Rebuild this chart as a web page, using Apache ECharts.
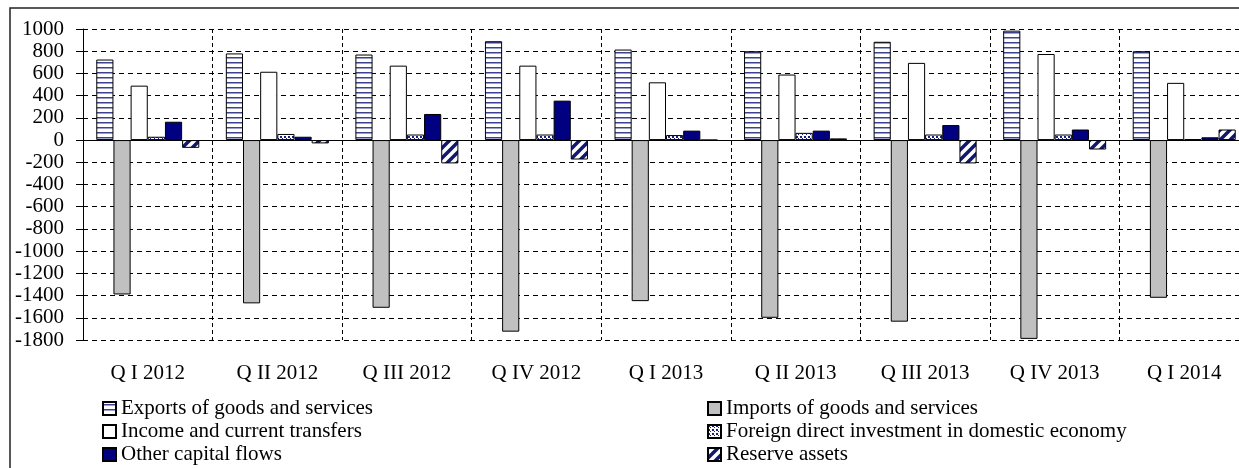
<!DOCTYPE html>
<html>
<head>
<meta charset="utf-8">
<script src="https://cdn.jsdelivr.net/npm/echarts@6/dist/echarts.min.js"></script>
<style>
  html, body { margin: 0; padding: 0; background: #fff; }
  #chart { width: 1239px; height: 468px; }
</style>
</head>
<body>
<div id="chart"></div>
<script>
// ---- data ----
var categories = ['Q I 2012', 'Q II 2012', 'Q III 2012', 'Q IV 2012', 'Q I 2013', 'Q II 2013', 'Q III 2013', 'Q IV 2013', 'Q I 2014'];
var exportsGS = [725, 780, 770, 890, 815, 800, 885, 985, 800];
var importsGS = [-1390, -1470, -1510, -1725, -1450, -1600, -1635, -1790, -1420];
var incomeCT = [490, 615, 670, 670, 520, 590, 695, 775, 515];
var fdi = [30, 55, 50, 50, 45, 65, 50, 50, 8];
var otherCap = [165, 30, 235, 355, 85, 85, 135, 95, 25];
var reserve = [-70, -30, -210, -175, 0, 15, -210, -85, 95];
var yTicks = { min: -1800, max: 1000, interval: 200 };

var names = {
  exp: 'Exports of goods and services',
  imp: 'Imports of goods and services',
  inc: 'Income and current transfers',
  fdi: 'Foreign direct investment in domestic economy',
  oth: 'Other capital flows',
  res: 'Reserve assets'
};

// ---- patterns ----
function makeCanvas(w, h, draw) {
  var c = document.createElement('canvas');
  c.width = w; c.height = h;
  var ctx = c.getContext('2d');
  draw(ctx, w, h);
  return { image: c, repeat: 'repeat' };
}
var hStripe = makeCanvas(8, 5, function (ctx, w, h) {
  ctx.fillStyle = '#ffffff'; ctx.fillRect(0, 0, w, h);
  ctx.fillStyle = '#3d4290'; ctx.fillRect(0, 2, w, 1.5);
});
var checker = makeCanvas(4, 4, function (ctx, w, h) {
  ctx.fillStyle = '#ffffff'; ctx.fillRect(0, 0, w, h);
  ctx.fillStyle = '#1a1f7a';
  ctx.fillRect(0, 0, 2, 2); ctx.fillRect(2, 2, 1, 1);
});
var diag = makeCanvas(10, 10, function (ctx, w, h) {
  ctx.fillStyle = '#ffffff'; ctx.fillRect(0, 0, w, h);
  ctx.strokeStyle = '#101870'; ctx.lineWidth = 3.5;
  ctx.beginPath();
  ctx.moveTo(-5, 5); ctx.lineTo(5, -5);
  ctx.moveTo(0, 10); ctx.lineTo(10, 0);
  ctx.moveTo(5, 15); ctx.lineTo(15, 5);
  ctx.stroke();
});

var font = "'Liberation Serif', 'Times New Roman', serif";
var border = { borderColor: '#000', borderWidth: 1 };
function bar(name, data, color) {
  return {
    name: name, type: 'bar', data: data,
    xAxisIndex: 0, yAxisIndex: 0,
    barGap: '0%', barCategoryGap: '20.5%',
    itemStyle: Object.assign({ color: color }, border),
    emphasis: { disabled: true }
  };
}
var legendText = { fontFamily: font, fontSize: 21, color: '#000', lineHeight: 21 };

var chart = echarts.init(document.getElementById('chart'), null, { renderer: 'canvas' });
chart.setOption({
  animation: false,
  backgroundColor: '#fff',
  textStyle: { fontFamily: font },
  graphic: [{
    type: 'rect', silent: true, z: 100,
    shape: { x: 10, y: 8, width: 1300, height: 520 },
    style: { fill: 'none', stroke: '#222', lineWidth: 1.5 }
  }],
  grid: { left: 83, top: 29, width: 1166, height: 311, outerBoundsMode: 'none' },
  legend: [{
    orient: 'vertical', left: 102, top: 398, height: 70, padding: 0,
    itemWidth: 13, itemHeight: 13, itemGap: 2,
    icon: 'rect',
    textStyle: legendText,
    data: [names.exp, names.inc, names.oth]
  }, {
    orient: 'vertical', left: 707, top: 398, height: 70, padding: 0,
    itemWidth: 13, itemHeight: 13, itemGap: 2,
    icon: 'rect',
    textStyle: legendText,
    data: [names.imp, names.fdi, names.res]
  }],
  xAxis: [{
    type: 'category', data: categories, boundaryGap: true,
    axisLine: { show: false, onZero: false },
    axisTick: { show: false },
    axisLabel: { color: '#000', fontFamily: font, fontSize: 21, margin: 23, interval: 0 },
    splitLine: { show: true, interval: 0, lineStyle: { color: '#000', width: 1, type: [4, 3] } }
  }, {
    type: 'category', data: categories, position: 'bottom',
    axisLine: { show: true, onZero: true, lineStyle: { color: '#000', width: 1 } },
    axisTick: { show: false },
    axisLabel: { show: false },
    splitLine: { show: false }
  }],
  yAxis: {
    type: 'value', min: yTicks.min, max: yTicks.max, interval: yTicks.interval,
    axisLine: { show: true, onZero: false, lineStyle: { color: '#000', width: 1 } },
    axisTick: { show: true, length: 7, lineStyle: { color: '#000' } },
    axisLabel: { color: '#000', fontFamily: font, fontSize: 21, margin: 19,
      formatter: function (v) { return String(v); } },
    splitLine: { show: true, lineStyle: { color: '#000', width: 1, type: [5, 4] } }
  },
  series: [
    bar(names.exp, exportsGS, hStripe),
    bar(names.imp, importsGS, '#c0c0c0'),
    bar(names.inc, incomeCT, '#ffffff'),
    bar(names.fdi, fdi, checker),
    bar(names.oth, otherCap, '#000080'),
    bar(names.res, reserve, diag)
  ]
});
</script>
</body>
</html>
